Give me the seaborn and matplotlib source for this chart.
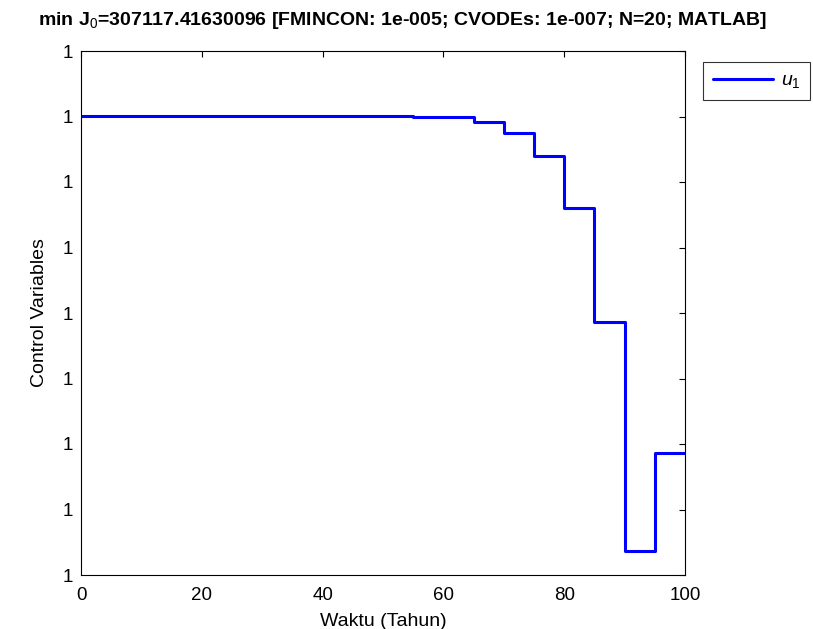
import numpy as np
import pandas as pd
import matplotlib
matplotlib.use('Agg')
import matplotlib.pyplot as plt
import seaborn as sns
from matplotlib.ticker import FuncFormatter

# control interval boundaries (N=20 over 0..100 years)
t_edges = [0, 5, 10, 15, 20, 25, 30, 35, 40, 45, 50,
           55, 60, 65, 70, 75, 80, 85, 90, 95, 100]
# u1 on each interval, given as offset from 1 in units of 1e-6
u1_offset = [-0.985, -0.985, -0.985, -0.985, -0.985, -0.985, -0.985, -0.985,
             -0.985, -0.985, -0.985, -1.01, -1.01, -1.08, -1.25, -1.60,
             -2.39, -4.14, -7.64, -6.13]
y_scale = 1e-6

title_text = 'min J$_0$=307117.41630096 [FMINCON: 1e-005; CVODEs: 1e-007; N=20; MATLAB]'

sns.set_style('white')
plt.rcParams['font.family'] = ['Liberation Sans', 'DejaVu Sans']
plt.rcParams['mathtext.fontset'] = 'custom'
plt.rcParams['mathtext.rm'] = 'Liberation Sans'
plt.rcParams['mathtext.it'] = 'Liberation Sans:italic'
plt.rcParams['mathtext.bf'] = 'Liberation Sans:bold'
plt.rcParams['text.color'] = 'black'
plt.rcParams['axes.labelcolor'] = 'black'

vals = [1 + v * y_scale for v in u1_offset]
df = pd.DataFrame({'t': t_edges, 'u1': vals + [vals[-1]]})

fig = plt.figure(figsize=(8.13, 6.29), dpi=100)
ax = fig.add_axes([81 / 813, 1 - 575 / 629, (685 - 81) / 813, (575 - 51) / 629])

sns.lineplot(data=df, x='t', y='u1', ax=ax, color='#0000FF', linewidth=2.2,
             drawstyle='steps-post', label='$u_1$')

ax.set_xlim(0, 100)
ax.set_ylim(1 - 8 * y_scale, 1)
ax.set_xticks([0, 20, 40, 60, 80, 100])
ax.set_yticks([1 - k * y_scale for k in range(8, -1, -1)])
ax.yaxis.set_major_formatter(FuncFormatter(lambda v, p: f'{v:.4g}'))
ax.tick_params(direction='in', length=4, width=0.8, top=True, right=True,
               labelsize=13.5, colors='black', labelcolor='black', pad=6)
ax.tick_params(axis='x', pad=9)
for s in ax.spines.values():
    s.set_visible(True)
    s.set_color('black')
    s.set_linewidth(0.8)

ax.set_xlabel('Waktu (Tahun)', fontsize=14, labelpad=6)
ax.set_ylabel('Control Variables', fontsize=14, labelpad=10)

fig.text(0.495, 0.968, title_text, ha='center', va='center',
         fontsize=14, fontweight='bold', color='black')

leg = ax.legend(loc='upper left', bbox_to_anchor=(703 / 813, 1 - 62 / 629),
                bbox_transform=fig.transFigure, fontsize=14, frameon=True,
                fancybox=False, edgecolor='black', borderaxespad=0,
                handlelength=3.1, handletextpad=0.4, borderpad=0.5)
leg.get_frame().set_linewidth(0.8)

fig.savefig('out.png', dpi=100, facecolor='white')
